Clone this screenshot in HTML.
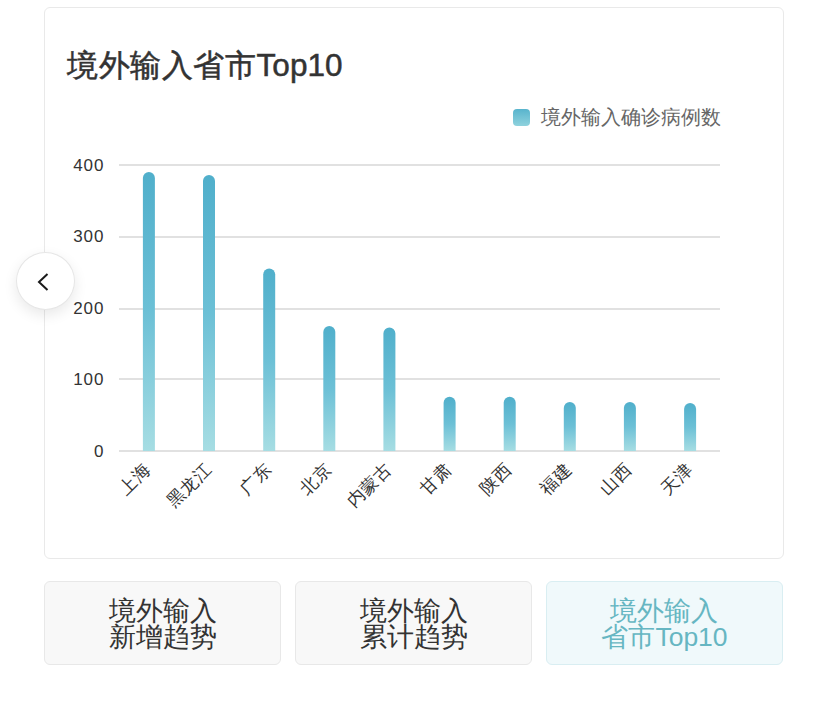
<!DOCTYPE html>
<html><head><meta charset="utf-8">
<style>
html,body{margin:0;padding:0;background:#fff;width:828px;height:702px;overflow:hidden;font-family:"Liberation Sans",sans-serif;}
.card{position:absolute;left:44px;top:7px;width:738px;height:550px;border:1px solid #e9e9e9;border-radius:6px;background:#fff;}
.title{position:absolute;left:67px;top:45px;font-size:30.5px;line-height:40px;color:#333;-webkit-text-stroke:0.5px #333;white-space:nowrap;}
.legend-sq{position:absolute;left:513px;top:109px;width:17px;height:17px;border-radius:4px;background:linear-gradient(#58b4cd,#8fd2dd);}
.legend-tx{position:absolute;left:541px;top:104px;font-size:20px;line-height:26px;color:#666;white-space:nowrap;}
.ylab{position:absolute;width:60px;left:44.5px;text-align:right;font-size:17px;line-height:20px;color:#333;letter-spacing:1px;}
.btn{position:absolute;top:581px;height:81px;padding-top:1px;width:235px;border:1px solid #e8e8e8;border-radius:6px;background:#f8f8f8;color:#333;font-size:26.5px;line-height:26px;text-align:center;display:flex;align-items:center;justify-content:center;}
.btn.act{background:#f0f9fb;border-color:#d9eef2;color:#66b6c2;}
.circle{position:absolute;left:16px;top:252px;width:59px;height:58px;border-radius:50%;background:#fff;box-shadow:0 5px 14px rgba(0,0,0,0.09);border:1px solid #e6e6e6;box-sizing:border-box;}
.xl{position:absolute;font-size:17.5px;line-height:20px;color:#333;white-space:nowrap;transform-origin:100% 50%;transform:rotate(-45deg);}
</style></head><body>
<div class="card"></div>
<div class="title"><span style="letter-spacing:0.6px">境外输入省市</span><span style="font-size:31.5px">Top10</span></div>
<div class="legend-sq"></div>
<div class="legend-tx">境外输入确诊病例数</div>
<svg style="position:absolute;left:0;top:0" width="828" height="702">
<defs><linearGradient id="g" x1="0" y1="0" x2="0" y2="1"><stop offset="0" stop-color="#50afcb"/><stop offset="0.5" stop-color="#6cc0d6"/><stop offset="1" stop-color="#a6dde3"/></linearGradient></defs>
<g fill="#e1e1e1">
<rect x="119" y="164" width="601" height="2"/>
<rect x="119" y="236" width="601" height="2"/>
<rect x="119" y="308" width="601" height="2"/>
<rect x="119" y="378" width="601" height="2"/>
<rect x="119" y="450" width="601" height="2"/>
</g>
<g id="bars">
<path d="M142.9 451 V178.1 A6 6 0 0 1 154.9 178.1 V451 Z" fill="url(#g)"/>
<path d="M203.0 451 V181.1 A6 6 0 0 1 215.0 181.1 V451 Z" fill="url(#g)"/>
<path d="M263.2 451 V274.5 A6 6 0 0 1 275.2 274.5 V451 Z" fill="url(#g)"/>
<path d="M323.3 451 V332.1 A6 6 0 0 1 335.3 332.1 V451 Z" fill="url(#g)"/>
<path d="M383.4 451 V333.5 A6 6 0 0 1 395.4 333.5 V451 Z" fill="url(#g)"/>
<path d="M443.6 451 V402.8 A6 6 0 0 1 455.6 402.8 V451 Z" fill="url(#g)"/>
<path d="M503.7 451 V402.8 A6 6 0 0 1 515.7 402.8 V451 Z" fill="url(#g)"/>
<path d="M563.8 451 V408.0 A6 6 0 0 1 575.8 408.0 V451 Z" fill="url(#g)"/>
<path d="M623.9 451 V408.0 A6 6 0 0 1 635.9 408.0 V451 Z" fill="url(#g)"/>
<path d="M684.1 451 V408.9 A6 6 0 0 1 696.1 408.9 V451 Z" fill="url(#g)"/>
</g>
</svg>
<div class="ylab" style="top:156px">400</div>
<div class="ylab" style="top:227px">300</div>
<div class="ylab" style="top:299px">200</div>
<div class="ylab" style="top:370px">100</div>
<div class="ylab" style="top:442px">0</div>
<div class="xl" style="right:680.6px;top:456px">上海</div>
<div class="xl" style="right:620.5px;top:456px">黑龙江</div>
<div class="xl" style="right:560.3px;top:456px">广东</div>
<div class="xl" style="right:500.2px;top:456px">北京</div>
<div class="xl" style="right:440.1px;top:456px">内蒙古</div>
<div class="xl" style="right:379.9px;top:456px">甘肃</div>
<div class="xl" style="right:319.8px;top:456px">陕西</div>
<div class="xl" style="right:259.7px;top:456px">福建</div>
<div class="xl" style="right:199.6px;top:456px">山西</div>
<div class="xl" style="right:139.4px;top:456px">天津</div>
<div class="circle"></div>
<svg style="position:absolute;left:34px;top:271px" width="20" height="22"><path d="M13.5 3 L5 11 L13.5 19" fill="none" stroke="#1a1a1a" stroke-width="2"/></svg>
<div class="btn" style="left:44px">境外输入<br>新增趋势</div>
<div class="btn" style="left:295px">境外输入<br>累计趋势</div>
<div class="btn act" style="left:546px">境外输入<br>省市Top10</div>
</body></html>
